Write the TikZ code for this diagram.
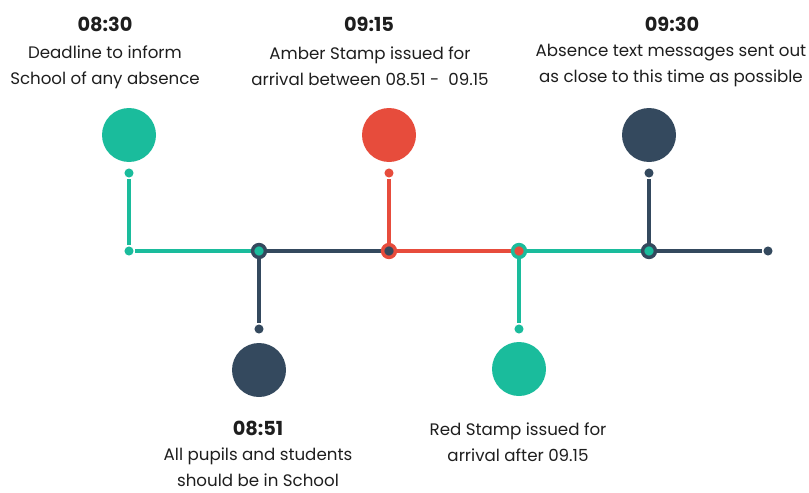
\documentclass[tikz,border=0pt]{standalone}
\usepackage{fontspec}
\setmainfont{Poppins}
\usetikzlibrary{positioning}
\definecolor{tealc}{RGB}{26,188,156}
\definecolor{redc}{RGB}{231,76,60}
\definecolor{darkc}{RGB}{52,73,94}
\definecolor{textc}{RGB}{30,30,30}

\begin{document}
\begin{tikzpicture}[x=0.75pt,y=-0.75pt
  ,line width=2.6pt
  ,bigdot/.style={circle,fill=#1,minimum size=40.5pt,inner sep=0pt}
  ,tipdot/.style={circle,fill=#1,minimum size=6.8pt,inner sep=0pt}
  ,joint/.style 2 args={circle,draw=#1,fill=#2,line width=2.6pt
    ,minimum size=9.6pt,inner sep=0pt}
  ,time/.style={font=\bfseries\fontsize{14.5}{16}\selectfont,text=textc}
  ,note/.style={align=center,inner sep=0pt,text=textc
    ,font=\fontsize{12.5}{19.5}\selectfont}]

  \useasboundingbox (0,0) rectangle (809,492);

  % the line
  \coordinate (j1) at (259,251);
  \coordinate (j2) at (389,251);
  \coordinate (j3) at (519,251);
  \coordinate (j4) at (649,251);
  \node[tipdot=tealc] (start) at (129,251) {};
  \node[tipdot=darkc] (end)   at (768,251) {};

  % the stems
  \node[tipdot=tealc] (tip1) at (129,173) {};
  \node[tipdot=darkc] (tip2) at (259,329) {};
  \node[tipdot=redc]  (tip3) at (389,173) {};
  \node[tipdot=tealc] (tip4) at (519,329) {};
  \node[tipdot=darkc] (tip5) at (649,173) {};

  \node[bigdot=tealc] (big1) at (129,135) {};
  \node[bigdot=darkc] (big2) at (259,370) {};
  \node[bigdot=redc]  (big3) at (389,135) {};
  \node[bigdot=tealc] (big4) at (519,369) {};
  \node[bigdot=darkc] (big5) at (649,135) {};

  \draw[tealc] (start) -- (j1);
  \draw[darkc] (j1) -- (j2);
  \draw[redc]  (j2) -- (j3);
  \draw[tealc] (j3) -- (j4);
  \draw[darkc] (j4) -- (end);

  \draw[tealc] (tip1) -- (start);
  \draw[darkc] (j1) -- (tip2);
  \draw[redc]  (tip3) -- (j2);
  \draw[tealc] (j3) -- (tip4);
  \draw[darkc] (tip5) -- (j4);

  \node[joint={darkc}{tealc}] (ring1) at (j1) {};
  \node[joint={redc}{darkc}]  (ring2) at (j2) {};
  \node[joint={tealc}{redc}]  (ring3) at (j3) {};
  \node[joint={darkc}{tealc}] (ring4) at (j4) {};

  % the texts
  \node[time] (t1) at (105,24) {08:30};
  \node[note] (n1) at (105,67) {Deadline to inform\\School of any absence};
  \node[time] (t3) at (369,24) {09:15};
  \node[note] (n3) at (370,66) {Amber Stamp issued for\\arrival between 08.51 -\ \ 09.15};
  \node[time] (t5) at (672,24) {09:30};
  \node[note] (n5) at (671,66) {Absence text messages sent out\\as close to this time as possible};
  \node[time] (t2) at (258,428) {08:51};
  \node[note] (n2) at (258,467) {All pupils and students\\should be in School};
  \node[note] (n4) at (518,442) {Red Stamp issued for\\arrival after 09.15};

\end{tikzpicture}
\end{document}
